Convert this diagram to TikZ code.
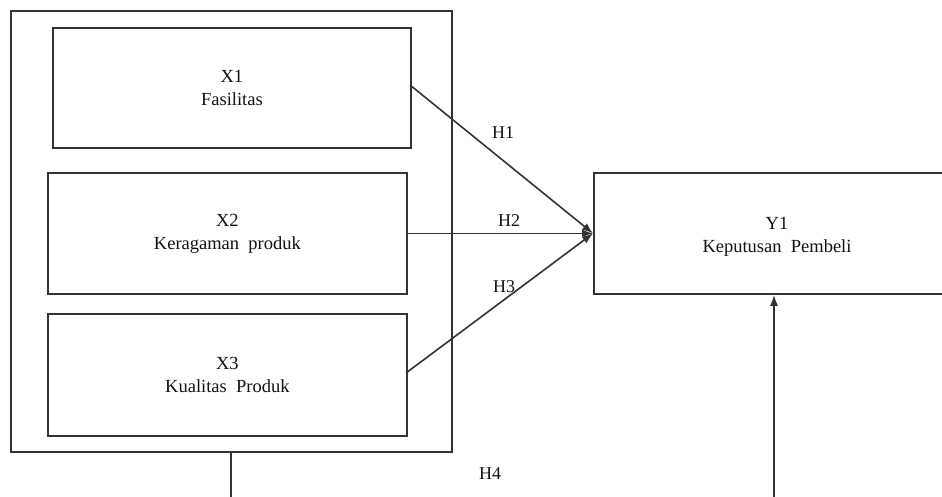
\documentclass[tikz,border=0pt]{standalone}
\usepackage{fontspec}
\setmainfont{Liberation Serif}
\usetikzlibrary{arrows.meta, positioning}
\definecolor{lineGray}{HTML}{333333}
\definecolor{textDark}{HTML}{111111}

\tikzset{
  varbox/.style={draw=lineGray, line width=1.8pt, inner sep=0pt, anchor=north west,
    align=center, text=textDark, font=\fontsize{18.5}{23}\selectfont},
  hlabel/.style={text=textDark, font=\fontsize{18}{20}\selectfont, inner sep=1pt},
  link/.style={draw=lineGray, line width=1.6pt},
  hyp/.style={link, -{Latex[length=11pt, width=8pt]}}
}

\begin{document}
\begin{tikzpicture}[x=1pt, y=-1pt]
  \useasboundingbox (0,0) rectangle (942,497);
  % outer group of independent variables
  \node[varbox, minimum width=441pt, minimum height=441pt] (grp) at (10,10) {};
  \node[varbox, minimum width=358pt, minimum height=120pt] (x1) at (52,27) {X1\\Fasilitas};
  \node[varbox, minimum width=359pt, minimum height=121pt] (x2) at (47,172) {X2\\Keragaman\ \ produk};
  \node[varbox, minimum width=359pt, minimum height=122pt] (x3) at (47,313) {X3\\Kualitas\ \ Produk};
  % dependent variable
  \node[varbox, minimum width=380pt, minimum height=121pt] (y1) at (593,172) {};
  \node[text=textDark, font=\fontsize{18.5}{23}\selectfont, align=center] (y1txt) at (777,237) {Y1\\Keputusan\ \ Pembeli};

  \coordinate (x1out) at (410,85);
  \coordinate (x3out) at (406,373);
  \coordinate (grpout) at (231,497);
  \coordinate (h4in) at (774,497);

  \draw[hyp] (x1out) -- (y1.west);
  \draw[hyp] (x2.east) -- (y1.west);
  \draw[hyp] (x3out) -- (y1.west);
  \draw[link] (grp.south -| grpout) -- (grpout);
  \draw[hyp] (h4in) -- (y1.south -| h4in);

  \node[hlabel] (h1) at (503,133) {H1};
  \node[hlabel] (h2) at (509,221) {H2};
  \node[hlabel] (h3) at (504,287) {H3};
  \node[hlabel] (h4) at (490,474) {H4};
\end{tikzpicture}
\end{document}
